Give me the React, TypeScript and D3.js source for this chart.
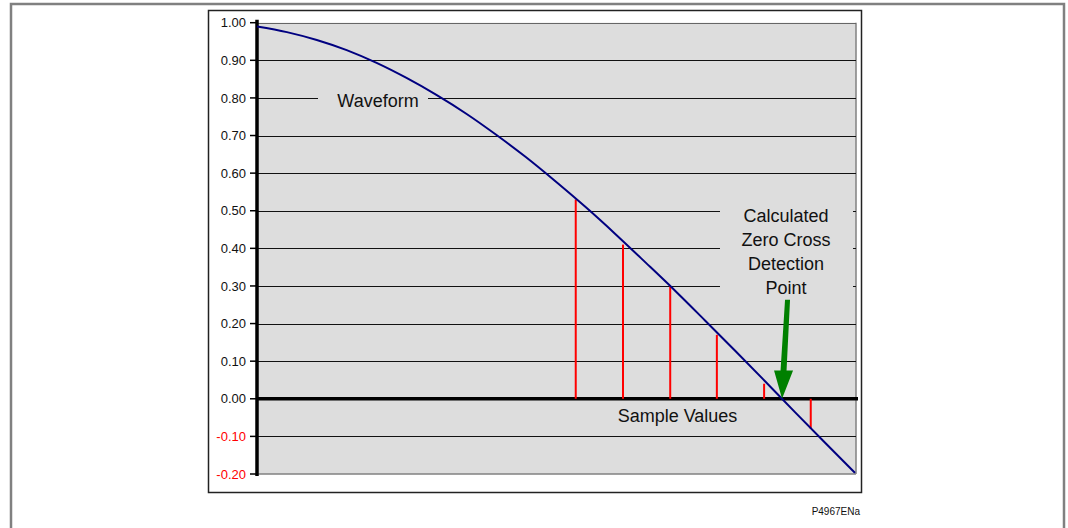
import React from 'react'
import * as d3 from 'd3'

// waveform, x in arbitrary time units 0..100
const waveTimes = [0, 5, 10, 15, 20, 25, 30, 35, 40, 45, 50, 55, 60, 65, 70, 75, 80, 85, 90, 95, 100]
const waveValues = [0.99, 0.975, 0.954, 0.927, 0.893, 0.853, 0.808, 0.758, 0.702, 0.642, 0.577, 0.509, 0.437, 0.362, 0.286, 0.207, 0.127, 0.046, -0.036, -0.117, -0.197]

// sampled values (red stems)
const sampleTimes = [53.3, 61.2, 69.1, 76.9, 84.8, 92.6]
const sampleValues = [0.53, 0.41, 0.3, 0.17, 0.04, -0.08]

const zeroCrossTime = 87.8

const yTicks = [1.0, 0.9, 0.8, 0.7, 0.6, 0.5, 0.4, 0.3, 0.2, 0.1, 0.0, -0.1, -0.2]
const noteLines = ['Calculated', 'Zero Cross', 'Detection', 'Point']

const W = 1068
const H = 528
const font = "'Liberation Sans', Arial, sans-serif"

const App = () => {
    const left = 257, right = 856, top = 22.7, bottom = 474
    const x = d3.scaleLinear().domain([0, 100]).range([left, right - 1])
    const y = d3.scaleLinear().domain([-0.2, 1.0]).range([bottom, top])

    const line = d3.line<number>()
        .x((_, i) => x(waveTimes[i]))
        .y(d => y(d))
        .curve(d3.curveMonotoneX)

    const zx = x(zeroCrossTime)
    const zy = y(0)
    // arrow geometry relative to the crossing point
    const arrow = [
        [zx + 3, y(0.263)], [zx + 8, y(0.263)],
        [zx + 4.5, y(0.075)], [zx + 11, y(0.075)],
        [zx, zy], [zx - 8, y(0.075)], [zx - 1.5, y(0.075)],
    ]

    return (
        <svg width={W} height={H} style={{ position: 'absolute', left: 0, top: 0, background: '#fff' }}>
            {/* page frame */}
            <path d={`M11,${H} L11,4 L1064,4 L1064,${H}`} fill="none" stroke="#808080" strokeWidth={2.5} />
            {/* chart frame */}
            <rect x={208.5} y={10.5} width={653} height={482} fill="#fff" stroke="#222" strokeWidth={1.5} />

            {/* plot area */}
            <rect x={left} y={top} width={right - left} height={bottom - top} fill="#dddddd" />
            <line x1={right} x2={right} y1={top} y2={bottom} stroke="#808080" strokeWidth={1.5} />
            <line x1={left} x2={right} y1={bottom} y2={bottom} stroke="#808080" strokeWidth={1.5} />

            {yTicks.filter(t => t !== 0 && t !== -0.2).map(t => (
                <line key={t} x1={left} x2={right} y1={Math.round(y(t)) + 0.5} y2={Math.round(y(t)) + 0.5}
                    stroke={t === 1 ? '#666' : '#111'} strokeWidth={1} />
            ))}

            {/* label backgrounds that break the gridlines */}
            <rect x={318} y={88} width={110} height={22} fill="#dddddd" />
            <rect x={720} y={198} width={133} height={104} fill="#dddddd" />

            {/* zero line and y axis */}
            <line x1={left} x2={right + 2} y1={zy} y2={zy} stroke="#000" strokeWidth={3.5} />
            <line x1={left} x2={left} y1={top - 3} y2={bottom + 2} stroke="#000" strokeWidth={3.5} />

            {yTicks.map(t => (
                <g key={'t' + t}>
                    <line x1={250} x2={left} y1={y(t)} y2={y(t)} stroke="#000" strokeWidth={1.5} />
                    <text x={246} y={y(t)} dy="0.36em" textAnchor="end" fontFamily={font} fontSize={13}
                        fill={t < 0 ? '#ff0000' : '#111'}>{t.toFixed(2)}</text>
                </g>
            ))}

            {/* sample stems */}
            {sampleValues.map((v, i) => (
                <line key={'s' + i} x1={x(sampleTimes[i])} x2={x(sampleTimes[i])} y1={zy} y2={y(v)}
                    stroke="#ff0000" strokeWidth={2} />
            ))}

            {/* waveform */}
            <path d={line(waveValues) || ''} fill="none" stroke="#000080" strokeWidth={2} />

            {/* arrow */}
            <polygon points={arrow.map(p => p.join(',')).join(' ')} fill="#008000" />

            <text x={378} y={107} textAnchor="middle" fontFamily={font} fontSize={18} fill="#111">Waveform</text>
            {noteLines.map((s, i) => (
                <text key={s} x={786} y={221.7 + i * 24} textAnchor="middle" fontFamily={font} fontSize={18} fill="#111">{s}</text>
            ))}
            <text x={677.5} y={421.7} textAnchor="middle" fontFamily={font} fontSize={18} fill="#111">Sample Values</text>

            <text x={860} y={515} textAnchor="end" fontFamily={font} fontSize={10} fill="#111">P4967ENa</text>
        </svg>
    )
}

export default App
